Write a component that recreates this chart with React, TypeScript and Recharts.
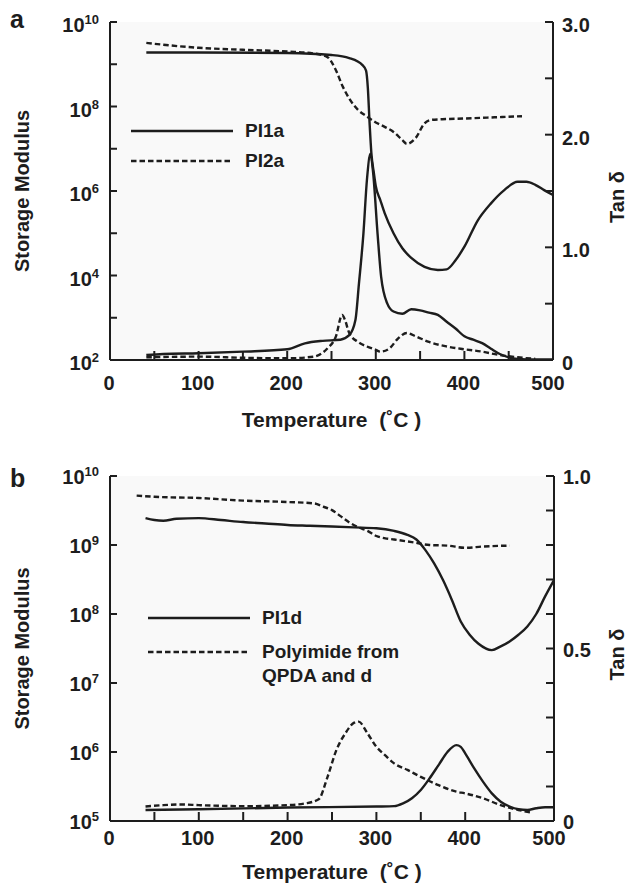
import React from "react";
import { LineChart, Line, XAxis, YAxis, CartesianGrid, Legend } from "recharts";

const FONT = "'Liberation Sans', Arial, Helvetica, sans-serif";
const INK = "#1d1d1d";
const DASH = "5.5 3";

// ---- panel a : PI1a / PI2a ----
const pi1aModTemp = [41, 100, 200, 250, 270, 285, 289, 291, 293, 295, 298, 300, 305, 310, 320, 330, 340, 355, 370, 380, 390, 400, 415, 430, 445, 460, 470, 480, 490, 500];
const pi1aMod = [1.9e9, 1.9e9, 1.85e9, 1.65e9, 1.4e9, 9.5e8, 7.1e8, 2.8e8, 4e7, 7.9e6, 2.5e6, 1.3e6, 6.2e5, 3e5, 1e5, 4.4e4, 2.6e4, 1.6e4, 1.35e4, 1.4e4, 2.3e4, 4.8e4, 2e5, 5.1e5, 1.05e6, 1.65e6, 1.65e6, 1.4e6, 1.05e6, 8e5];
const pi2aModTemp = [41, 60, 100, 150, 200, 230, 245, 255, 262, 270, 280, 290, 300, 310, 320, 330, 335, 345, 355, 362, 375, 400, 430, 465];
const pi2aMod = [3.2e9, 2.9e9, 2.45e9, 2.2e9, 2e9, 1.8e9, 1.5e9, 7.2e8, 3.2e8, 1.55e8, 8.3e7, 5.8e7, 4.2e7, 3.3e7, 2.5e7, 1.6e7, 1.3e7, 1.8e7, 4e7, 4.8e7, 5e7, 5.2e7, 5.5e7, 5.9e7];
const pi1aTanTemp = [41, 60, 100, 150, 200, 220, 240, 260, 270, 277, 281, 286, 290, 294, 297, 302, 306, 313, 320, 330, 340, 350, 360, 370, 380, 390, 400, 410, 420, 430, 440, 450, 460, 480, 500];
const pi1aTan = [0.044, 0.053, 0.06, 0.074, 0.095, 0.148, 0.17, 0.18, 0.22, 0.355, 0.68, 1.12, 1.6, 1.83, 1.66, 1.12, 0.74, 0.5, 0.43, 0.41, 0.45, 0.44, 0.42, 0.4, 0.34, 0.28, 0.21, 0.18, 0.15, 0.1, 0.053, 0.024, 0.01, 0.005, 0.005];
const pi2aTanTemp = [41, 100, 150, 200, 230, 245, 255, 262, 265, 270, 280, 290, 300, 305, 315, 325, 335, 345, 360, 380, 400, 420, 440, 460, 480];
const pi2aTan = [0.024, 0.03, 0.02, 0.015, 0.03, 0.1, 0.21, 0.4, 0.36, 0.24, 0.16, 0.12, 0.09, 0.074, 0.1, 0.19, 0.24, 0.21, 0.16, 0.12, 0.095, 0.074, 0.044, 0.024, 0.01];

// ---- panel b : PI1d / polyimide from QPDA and d ----
const pi1dModTemp = [40, 50, 60, 75, 100, 125, 150, 175, 200, 225, 250, 275, 300, 320, 335, 345, 355, 365, 375, 385, 395, 405, 415, 430, 440, 450, 460, 470, 480, 490, 500];
const pi1dMod = [2.45e9, 2.3e9, 2.25e9, 2.4e9, 2.45e9, 2.3e9, 2.15e9, 2.05e9, 1.95e9, 1.9e9, 1.85e9, 1.8e9, 1.75e9, 1.6e9, 1.4e9, 1.2e9, 8.5e8, 5.4e8, 3.1e8, 1.6e8, 7.8e7, 5e7, 3.7e7, 3e7, 3.4e7, 4e7, 5e7, 6.6e7, 1e8, 1.8e8, 3.1e8];
const qpdaModTemp = [30, 50, 100, 150, 200, 230, 240, 250, 260, 270, 280, 290, 300, 310, 320, 340, 360, 380, 400, 420, 450];
const qpdaMod = [5.2e9, 5e9, 4.8e9, 4.4e9, 4.2e9, 4e9, 3.6e9, 3.2e9, 2.6e9, 2.1e9, 1.8e9, 1.6e9, 1.35e9, 1.25e9, 1.2e9, 1.1e9, 1e9, 9.8e8, 9.1e8, 9.5e8, 9.8e8];
const pi1dTanTemp = [40, 100, 200, 300, 320, 330, 340, 350, 360, 370, 380, 390, 395, 400, 410, 420, 430, 440, 450, 460, 470, 480, 490, 500];
const pi1dTan = [0.032, 0.034, 0.039, 0.042, 0.043, 0.051, 0.066, 0.09, 0.124, 0.162, 0.2, 0.22, 0.215, 0.196, 0.153, 0.114, 0.08, 0.056, 0.042, 0.034, 0.032, 0.037, 0.04, 0.04];
const qpdaTanTemp = [40, 60, 80, 100, 150, 200, 220, 235, 245, 255, 265, 275, 280, 290, 300, 310, 320, 335, 350, 370, 390, 400, 420, 440, 460, 475];
const qpdaTan = [0.042, 0.046, 0.048, 0.046, 0.043, 0.046, 0.051, 0.063, 0.128, 0.206, 0.254, 0.285, 0.288, 0.254, 0.215, 0.19, 0.167, 0.148, 0.128, 0.104, 0.085, 0.08, 0.066, 0.046, 0.032, 0.024];

const tempTicks = [0, 50, 100, 150, 200, 250, 300, 350, 400, 450, 500];
const tempLabels = [0, 100, 200, 300, 400, 500];
const modTicksA = [1e2, 1e3, 1e4, 1e5, 1e6, 1e7, 1e8, 1e9, 1e10];
const modTicksB = [1e5, 1e6, 1e7, 1e8, 1e9, 1e10];
const tanTicksA = [0, 0.5, 1, 1.5, 2, 2.5, 3];
const tanLabelsA = [0, 1, 2, 3];
const tanTicksB = [0, 0.1, 0.2, 0.3, 0.4, 0.5, 0.6, 0.7, 0.8, 0.9, 1];
const tanLabelsB = [0, 0.5, 1];

const zip = (t: number[], v: number[]) => t.map((x, i) => ({ t: x, v: v[i] }));

type Series = { data: { t: number; v: number }[]; axis: "mod" | "tan"; dashed: boolean };
type LegendItem = { lines: string[]; dashed: boolean };

type PanelProps = {
  letter: string;
  height: number;
  top: number;
  bottom: number;
  rightW: number;
  series: Series[];
  modDomain: [number, number];
  modTicks: number[];
  modLabelled: (exp: number) => boolean;
  tanDomain: [number, number];
  tanTicks: number[];
  tanLabels: number[];
  xBase: number;
  yBase: number;
  titleY: number;
  legend: LegendItem[];
  legendLeft: number;
  legendTop: number;
  legendGap: number;
  letterY: number;
};

const W = 630;
const LEFT = 110;

const txt = { fontFamily: FONT, fontWeight: 700, fill: INK } as const;

function Panel(p: PanelProps) {
  const plotBottom = p.height - p.bottom;
  const plotRight = W - p.rightW;
  const midY = (p.top + plotBottom) / 2;
  const midX = (LEFT + plotRight) / 2;

  const titles = () => (
    <g>
      <text x={10} y={p.letterY} fontSize={25} {...txt}>{p.letter}</text>
      <text x={29} y={midY} fontSize={20} textAnchor="middle" transform={`rotate(-90 29 ${midY})`} {...txt}>
        Storage Modulus
      </text>
      <text x={624} y={midY + 6} fontSize={20} textAnchor="middle" transform={`rotate(-90 624 ${midY + 6})`} {...txt}>
        Tan δ
      </text>
      <text x={midX} y={p.titleY} fontSize={21} textAnchor="middle" style={{ whiteSpace: "pre" }} {...txt}>
        {"Temperature  (˚C )"}
      </text>
    </g>
  );

  const tempTick = (props: any) => {
    const { x, y, payload } = props;
    const v = payload.value;
    return (
      <g>
        {v > 0 && v < 500 && <line x1={x} x2={x} y1={y} y2={y - 9} stroke={INK} strokeWidth={2} />}
        {tempLabels.includes(v) && (
          <text x={x + (v === 500 ? -5 : -1)} y={y + p.xBase} textAnchor="middle" fontSize={20} {...txt}>
            {v}
          </text>
        )}
      </g>
    );
  };

  const modTick = (props: any) => {
    const { x, y, payload } = props;
    const exp = Math.round(Math.log10(payload.value));
    return (
      <g>
        <line x1={x} x2={x + 7} y1={y} y2={y} stroke={INK} strokeWidth={2} />
        {p.modLabelled(exp) && (
          <text x={x - 11} y={y + p.yBase} textAnchor="end" fontSize={20} {...txt}>
            10<tspan dy={-8} fontSize={13}>{exp}</tspan>
          </text>
        )}
      </g>
    );
  };

  const tanTick = (props: any) => {
    const { x, y, payload } = props;
    const v = payload.value;
    const lab = p.tanLabels.some((l) => Math.abs(l - v) < 1e-6);
    return (
      <g>
        <line x1={x - 8} x2={x} y1={y} y2={y} stroke={INK} strokeWidth={2} />
        {lab && (
          <text x={x + 9} y={y + p.yBase} fontSize={20} {...txt}>
            {v === 0 ? "0" : v.toFixed(1)}
          </text>
        )}
      </g>
    );
  };

  const legendBox = () => (
    <div style={{ fontFamily: FONT, fontWeight: 700, fontSize: 19, color: INK }}>
      {p.legend.map((item, i) => (
        <div key={i} style={{ display: "flex", alignItems: "flex-start", marginTop: i === 0 ? 0 : p.legendGap }}>
          <svg width={102} height={24} style={{ display: "block" }}>
            <line x1={0} x2={102} y1={12} y2={12} stroke={INK} strokeWidth={2.4} strokeDasharray={item.dashed ? DASH : undefined} />
          </svg>
          <div style={{ marginLeft: 12, lineHeight: "24px" }}>
            {item.lines.map((l, k) => (
              <div key={k}>{l}</div>
            ))}
          </div>
        </div>
      ))}
    </div>
  );

  return (
    <LineChart width={W} height={p.height} margin={{ top: p.top, right: 0, bottom: 0, left: 0 }}>
      <CartesianGrid yAxisId="mod" horizontal={false} vertical={false} fill="#f9f9f9" />
      <XAxis
        dataKey="t"
        type="number"
        domain={[0, 500]}
        ticks={tempTicks}
        interval={0}
        height={p.bottom}
        tickSize={0}
        tickMargin={0}
        tickLine={false}
        axisLine={{ stroke: INK, strokeWidth: 2 }}
        tick={tempTick}
        label={titles}
      />
      <XAxis xAxisId="top" orientation="top" type="number" domain={[0, 500]} height={0} tick={false} tickLine={false} axisLine={{ stroke: INK, strokeWidth: 2 }} />
      <YAxis
        yAxisId="mod"
        scale="log"
        type="number"
        domain={p.modDomain}
        allowDataOverflow
        ticks={p.modTicks}
        interval={0}
        width={LEFT}
        tickSize={0}
        tickMargin={0}
        tickLine={false}
        axisLine={{ stroke: INK, strokeWidth: 2 }}
        tick={modTick}
      />
      <YAxis
        yAxisId="tan"
        orientation="right"
        type="number"
        domain={p.tanDomain}
        allowDataOverflow
        ticks={p.tanTicks}
        interval={0}
        width={p.rightW}
        tickSize={0}
        tickMargin={0}
        tickLine={false}
        axisLine={{ stroke: INK, strokeWidth: 2 }}
        tick={tanTick}
      />
      {p.series.map((s, i) => (
        <Line
          key={i}
          data={s.data}
          dataKey="v"
          yAxisId={s.axis}
          type="monotone"
          dot={false}
          activeDot={false}
          stroke={INK}
          strokeWidth={2.4}
          strokeDasharray={s.dashed ? DASH : undefined}
          legendType="none"
          isAnimationActive={false}
        />
      ))}
      <Legend
        layout="horizontal"
        verticalAlign="middle"
        align="center"
        wrapperStyle={{ left: p.legendLeft, top: p.legendTop, width: 340 }}
        content={legendBox}
      />
    </LineChart>
  );
}

export default function App() {
  return (
    <div style={{ position: "absolute", left: 0, top: 0, width: W, height: 884, background: "#fff" }}>
      <Panel
        letter="a"
        height={440}
        top={22}
        bottom={80}
        rightW={77}
        series={[
          { data: zip(pi1aModTemp, pi1aMod), axis: "mod", dashed: false },
          { data: zip(pi2aModTemp, pi2aMod), axis: "mod", dashed: true },
          { data: zip(pi1aTanTemp, pi1aTan), axis: "tan", dashed: false },
          { data: zip(pi2aTanTemp, pi2aTan), axis: "tan", dashed: true },
        ]}
        modDomain={[1e2, 1e10]}
        modTicks={modTicksA}
        modLabelled={(e) => e % 2 === 0}
        tanDomain={[0, 3]}
        tanTicks={tanTicksA}
        tanLabels={tanLabelsA}
        xBase={30}
        yBase={10}
        titleY={427}
        legend={[
          { lines: ["PI1a"], dashed: false },
          { lines: ["PI2a"], dashed: true },
        ]}
        legendLeft={131}
        legendTop={119}
        legendGap={6}
        letterY={28}
      />
      <Panel
        letter="b"
        height={444}
        top={36}
        bottom={63}
        rightW={76}
        series={[
          { data: zip(pi1dModTemp, pi1dMod), axis: "mod", dashed: false },
          { data: zip(qpdaModTemp, qpdaMod), axis: "mod", dashed: true },
          { data: zip(pi1dTanTemp, pi1dTan), axis: "tan", dashed: false },
          { data: zip(qpdaTanTemp, qpdaTan), axis: "tan", dashed: true },
        ]}
        modDomain={[1e5, 1e10]}
        modTicks={modTicksB}
        modLabelled={() => true}
        tanDomain={[0, 1]}
        tanTicks={tanTicksB}
        tanLabels={tanLabelsB}
        xBase={24}
        yBase={8}
        titleY={439}
        legend={[
          { lines: ["PI1d"], dashed: false },
          { lines: ["Polyimide from", "QPDA and d"], dashed: true },
        ]}
        legendLeft={148}
        legendTop={166}
        legendGap={10}
        letterY={47}
      />
    </div>
  );
}
